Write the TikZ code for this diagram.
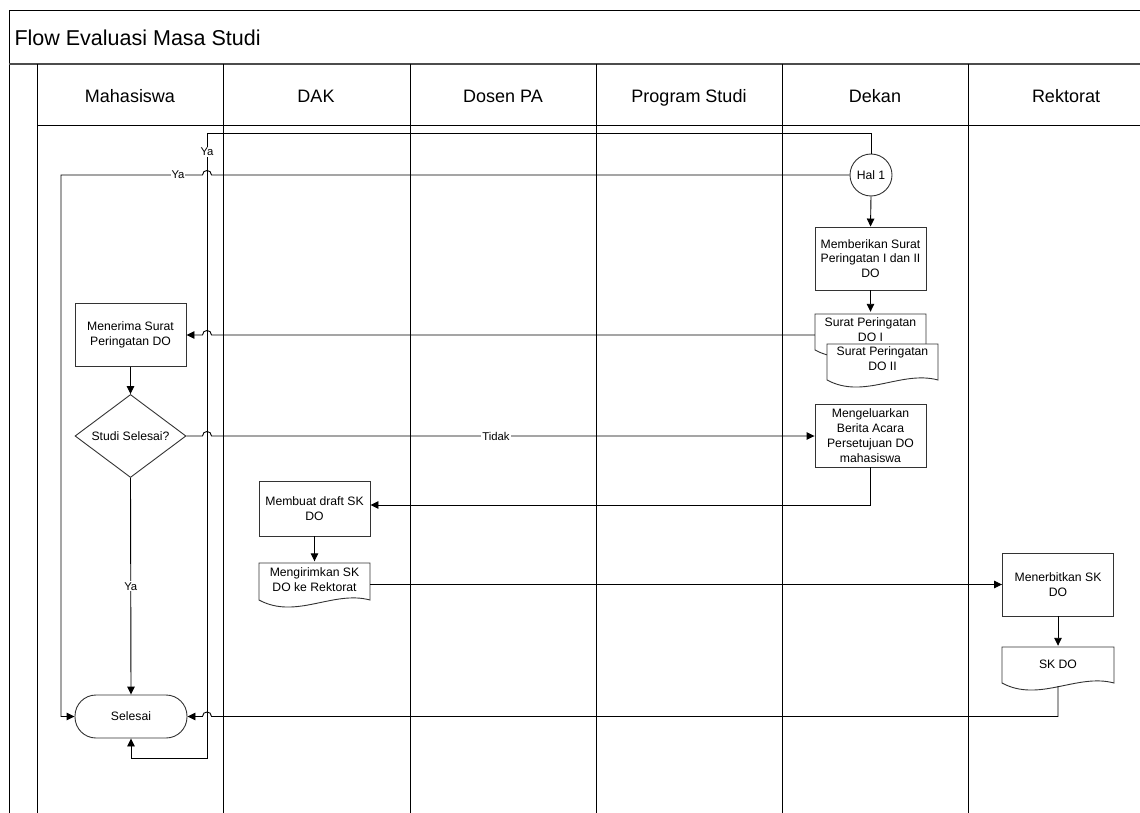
\documentclass[tikz,border=0pt]{standalone}
\usepackage{fontspec}
\setmainfont{Liberation Sans}
\usetikzlibrary{shapes.geometric,arrows.meta,calc}
\newcommand{\docshape}[5][]{%
  \filldraw[docline,#1] (#2,#3) -- (#4,#3) -- (#4,#5)
    .. controls ($(#4,#5)+(-37,-10)$) and ($(#2,#5)+(37,20)$) .. (#2,#5) -- cycle;}
\begin{document}
\begin{tikzpicture}[x=1pt,y=-1pt,
  laneline/.style={draw=black, line width=0.9pt},
  docline/.style={draw=black!80, fill=white, line width=0.9pt},
  boxtext/.style={font=\fontsize{12.2}{14.8}\selectfont, align=center},
  procbox/.style={boxtext, draw=black!80, fill=white, line width=0.9pt, rectangle,
     minimum width=111pt, minimum height=63pt, inner sep=1pt},
  docnode/.style={boxtext, rectangle, draw=none, minimum width=111pt, inner sep=1pt},
  decbox/.style={boxtext, draw=black!80, fill=white, line width=0.9pt, diamond, aspect=1.34,
     minimum width=111pt, minimum height=83pt, inner sep=0pt},
  termbox/.style={boxtext, draw=black!80, fill=white, line width=0.9pt, rectangle,
     rounded corners=21pt, minimum width=112pt, minimum height=43pt},
  connbox/.style={boxtext, draw=black!80, fill=white, line width=0.9pt, circle,
     minimum size=42pt, inner sep=0pt},
  hdr/.style={font=\fontsize{18}{21}\selectfont, text height=13pt, text depth=4pt, inner sep=0pt},
  lbl/.style={font=\fontsize{11.3}{13}\selectfont, fill=white, inner sep=1pt},
  arr/.style={draw=black, line width=0.9pt, -{Triangle[length=8pt,width=7.5pt]}},
]
\useasboundingbox (0,0) rectangle (1140,813);
\clip (0,0) rectangle (1140,813);
\fill[white] (0,0) rectangle (1140,813);

% frame and lanes
\draw[laneline] (1160,10) -- (9,10) -- (9,830);
\draw[draw=black!70, line width=1.8pt] (9,64) -- (1160,64);
\draw[laneline] (37,125) -- (1160,125);
\foreach \xx in {37,223,410,596,782,968} {
  \draw[laneline] (\xx,64) -- (\xx,830);
}
\node[anchor=west, font=\fontsize{21.5}{25}\selectfont] (title) at (11,38) {Flow Evaluasi Masa Studi};
\node[hdr] (h1) at (130,98) {Mahasiswa};
\node[hdr] (h2) at (316,98) {DAK};
\node[hdr] (h3) at (503,98) {Dosen PA};
\node[hdr] (h4) at (689,98) {Program Studi};
\node[hdr] (h5) at (875,98) {Dekan};
\node[hdr] (h6) at (1066,98) {Rektorat};

% nodes
\node[connbox] (hal) at (871,175) {Hal 1};
\node[procbox] (mem) at (870.5,258.5) {Memberikan Surat\\Peringatan I dan II\\DO};
\docshape{815}{314}{926}{350}
\node[docnode, minimum height=36pt] (do1) at (870.5,330) {Surat Peringatan\\DO I};
\docshape{827}{344}{938}{380}
\node[docnode, minimum height=36pt] (do2) at (882.5,359) {Surat Peringatan\\DO II};
\node[procbox] (meng) at (870.5,435.5) {Mengeluarkan\\Berita Acara\\Persetujuan DO\\mahasiswa};
\node[procbox] (menerima) at (130.5,335) {Menerima Surat\\Peringatan DO};
\node[decbox] (studi) at (130.5,436) {Studi Selesai?};
\node[procbox, minimum height=55pt] (membuat) at (314.5,508.5) {Membuat draft SK\\DO};
\docshape{259}{563}{370}{600}
\node[docnode, minimum height=37pt] (kirim) at (314.5,580) {Mengirimkan SK\\DO ke Rektorat};
\node[procbox] (terbit) at (1058,584.5) {Menerbitkan SK\\DO};
\docshape{1002}{647}{1114}{683}
\node[docnode, minimum height=36pt] (skdo) at (1058,664) {SK DO};
\node[termbox] (selesai) at (131,716.5) {Selesai};

% connectors
\draw[arr] (hal.north) -- (871,133) -| (207,758) -| (selesai.south);
\node[lbl] (ya1) at (207,152) {Ya};
\draw[arr] (hal.west) -- (211.5,175) .. controls (211.5,169) and (202.5,169) .. (202.5,175)
   -- (61,175) -- (61,716.5) -- (selesai.west);
\node[lbl] (ya2) at (178,175) {Ya};
\draw[arr] (hal.south) -- (mem.north);
\draw[arr] (mem.south) -- (do1.north);
\draw[arr] ([yshift=-5pt]do1.west) -- (211.5,335) .. controls (211.5,329) and (202.5,329) .. (202.5,335)
   -- (menerima.east);
\draw[arr] (menerima.south) -- (studi.north);
\draw[arr] (studi.east) -- (202.5,436) .. controls (202.5,430) and (211.5,430) .. (211.5,436)
   -- (meng.west |- studi.east);
\node[lbl] (tidak) at (496,436) {Tidak};
\draw[arr] (studi.south) -- (selesai.north) node[lbl, midway] (ya3) {Ya};
\draw[arr] (meng.south) |- ([yshift=3.5pt]membuat.east);
\draw[arr] (membuat.south) -- (kirim.north);
\draw[arr] ([yshift=-4.5pt]kirim.east) -- ([yshift=-4.5pt]kirim.east -| terbit.west);
\draw[arr] (terbit.south) -- (skdo.north);
\draw[arr] ([yshift=-4pt]skdo.south) |- (211.5,716.5) .. controls (211.5,710.5) and (202.5,710.5) .. (202.5,716.5)
   -- (selesai.east);
\end{tikzpicture}
\end{document}
